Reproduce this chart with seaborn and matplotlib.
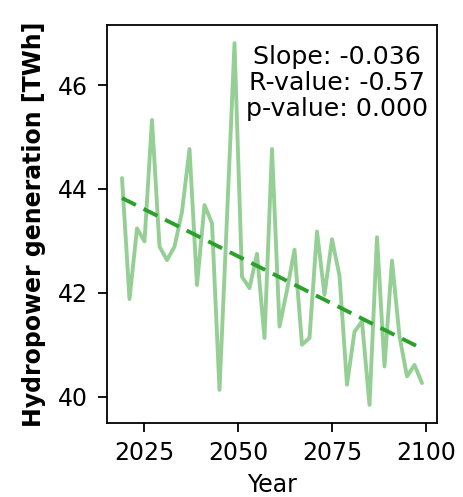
import numpy as np
import pandas as pd
import matplotlib
matplotlib.use('Agg')
import matplotlib.pyplot as plt
import seaborn as sb

# years every second year
years = list(range(2019, 2100, 2))
hydro = [44.21, 41.88, 43.24, 42.99, 45.33, 42.89, 42.63, 42.89, 43.56, 44.77,
         42.15, 43.69, 43.34, 40.13, 43.45, 46.81, 42.31, 42.09, 42.75, 41.13,
         44.77, 41.35, 42.05, 42.83, 41.00, 41.13, 43.18, 41.96, 43.03, 42.33,
         40.23, 41.25, 41.45, 39.84, 43.07, 40.58, 42.62, 41.16, 40.39, 40.61,
         40.26]
stats_lines = ['Slope: -0.036', 'R-value: -0.57', 'p-value: 0.000']

df = pd.DataFrame({'Year': years, 'Hydro': hydro})

sb.set_style('ticks')
plt.rcParams['font.family'] = ['DejaVu Sans']
plt.rcParams['text.color'] = 'black'
plt.rcParams['axes.labelcolor'] = 'black'
plt.rcParams['xtick.color'] = 'black'
plt.rcParams['ytick.color'] = 'black'
plt.rcParams['axes.edgecolor'] = 'black'

fig, ax = plt.subplots(figsize=(4.64, 4.97), dpi=100)
fig.subplots_adjust(left=0.2306, right=0.9418, top=0.9497, bottom=0.1489)

sb.lineplot(data=df, x='Year', y='Hydro', ax=ax, color='#2ca02c', alpha=0.5, lw=2.8)
sb.regplot(data=df, x='Year', y='Hydro', ax=ax, scatter=False, ci=None,
           color='#2ca02c', line_kws={'ls': '--', 'lw': 2.8, 'dashes': (4, 2.2)})

ax.text(0.972, 0.95, '\n'.join(stats_lines), transform=ax.transAxes,
        ha='right', va='top', multialignment='center', fontsize=18.2, linespacing=1.1)

ax.set_xticks([2025, 2050, 2075, 2100])
ax.set_yticks([40, 42, 44, 46])
ax.tick_params(axis='both', labelsize=17, length=6.5, width=1.3)
ax.tick_params(axis='x', pad=6.5)
ax.tick_params(axis='y', pad=7)
for s in ax.spines.values():
    s.set_linewidth(1.3)
ax.set_xlabel('Year', fontsize=17, labelpad=6)
ax.set_ylabel('Hydropower generation [TWh]', fontsize=17, fontweight='bold', labelpad=9)

plt.savefig('out.png', dpi=100)
